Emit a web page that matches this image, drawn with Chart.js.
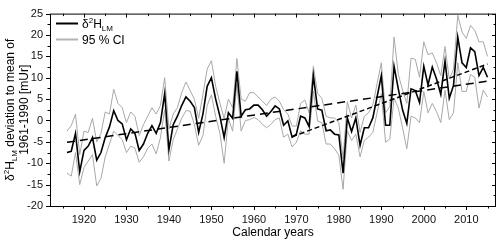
<!DOCTYPE html>
<html>
<head>
<meta charset="utf-8">
<script src="https://cdn.jsdelivr.net/npm/chart.js@4.4.1/dist/chart.umd.min.js"></script>
<style>
  html, body { margin: 0; padding: 0; background: #fff; }
</style>
</head>
<body>
<canvas id="isotope-chart" width="500" height="242"></canvas>
<script>
const years = [
    1916, 1917, 1918, 1919, 1920, 1921, 1922, 1923, 1924, 1925,
    1926, 1927, 1928, 1929, 1930, 1931, 1932, 1933, 1934, 1935,
    1936, 1937, 1938, 1939, 1940, 1941, 1942, 1943, 1944, 1945,
    1946, 1947, 1948, 1949, 1950, 1951, 1952, 1953, 1954, 1955,
    1956, 1957, 1958, 1959, 1960, 1961, 1962, 1963, 1964, 1965,
    1966, 1967, 1968, 1969, 1970, 1971, 1972, 1973, 1974, 1975,
    1976, 1977, 1978, 1979, 1980, 1981, 1982, 1983, 1984, 1985,
    1986, 1987, 1988, 1989, 1990, 1991, 1992, 1993, 1994, 1995,
    1996, 1997, 1998, 1999, 2000, 2001, 2002, 2003, 2004, 2005,
    2006, 2007, 2008, 2009, 2010, 2011, 2012, 2013, 2014, 2015
];

const d2hLM = [
    -7.5, -7.2, -3, -12, -7, -6, -4, -9.3, -7.5, -4,
    -1.5, 2.3, 0, -0.8, -4.5, -2, -3, -7, -5.5, -3,
    -1.2, -3, -0.5, 6.3, -6.8, -1, 1, 3.5, 5.5, 4.5,
    3, -2.8, 1.5, 8, 10, 5, 1, -4, 1.8, 0.5,
    11.5, 1, 2.5, 2.7, 3.6, 3.6, 2.5, 1.0, 2.1, 3.4,
    2.7, -1.1, -0.1, -3.9, -3.2, 1.0, 0.6, -1.4, 10.5, 2.7,
    2.4, -2.4, -2.2, -3.2, -3.4, -12.3, 0.6, -2.6, 0.6, -5.8,
    -1.7, -1.7, 0.6, 5.5, 10.5, -1.1, -1.1, 12.7, 7.4, 2.5,
    -0.7, 7.4, 7.0, 4.2, 12.7, 8.3, 12.5, 9.7, 6.1, 13.9,
    5.2, 8.2, 19.5, 13.5, 12.4, 17.0, 16.1, 10.5, 12.4, 10.1
];

const ciUpper = [
    -2.5, -1.2, 1.5, -8, -2.5, -2.8, 0.5, -5, -3, 2,
    1.5, 7.3, 4, 3, -0.5, 2, 1, -3.5, -1, 1,
    3, 1.5, 3.5, 10, -2, 1.5, 3, 6.5, 9, 7,
    5, 0.5, 6, 12, 14, 8, 4, 0.5, 5, 3,
    14.5, 5, 4.5, 6.5, 6.5, 5.5, 4.5, 3.5, 5.0, 5.5,
    4.5, 2.5, 1.5, -1.3, -1.3, 4.0, 4.8, 1.8, 12.7, 6.3,
    5.2, 1.0, 0.6, 0.6, -0.5, -8.9, 4.4, 0.6, 3.6, -2.8,
    1.0, 1.8, 3.6, 8.6, 13.5, 1.8, 3.3, 19.5, 10.8, 7.1,
    4.0, 14.6, 14.3, 10.1, 18.4, 15.4, 15.8, 13.5, 10.5, 17.3,
    9.7, 12, 24.6, 20.7, 19.2, 22.2, 21.1, 18.4, 18.4, 15
];

const ciLower = [
    -12.3, -13, -7.5, -15, -11, -9.5, -8, -15.3, -13.5, -8.5,
    -5.5, -2.5, -3.5, -4.5, -7.5, -6, -6.5, -9.8, -8.5, -6.5,
    -5.5, -7.8, -4, 2.5, -9.5, -4.5, -2, 0.5, 2.3, 2.2,
    -1, -5.8, -3.5, 3.5, 6, 1, -3, -10, 0.5, -2.5,
    8.5, -2.5, 0, 0.2, 0.7, 0.2, -0.9, -1.7, -0.9, 0.2,
    0.6, -3.9, -3.2, -6.2, -5.1, -2.4, -3.2, -3.2, 6.8, -0.1,
    -0.5, -5.5, -5.5, -6.6, -8.1, -16.1, -2.4, -4.7, -3.2, -8.5,
    -4.7, -3.9, -2.8, 1.8, 6.3, -5.1, -4.3, 5.2, 2.9, -1.7,
    -6.6, 1.0, 0.6, -0.5, 6.8, 1.8, 4.0, 2.1, -0.5, 7.1,
    0.2, 1.8, 13.5, 6.8, 6.8, 10.8, 10.1, 2.9, 7.1, 5.5
];

// linear trends (full record and since 1969)
const trendFullYears = [1916, 2015];
const trendFullValues = [-5.1, 9.2];
const trendRecentYears = [1969, 2015];
const trendRecentValues = [-3.8, 13.2];

const xTicks = [1920, 1930, 1940, 1950, 1960, 1970, 1980, 1990, 2000, 2010];
const xMinorTicks = [1915, 1925, 1935, 1945, 1955, 1965, 1975, 1985, 1995, 2005, 2015];
const yTicks = [-20, -15, -10, -5, 0, 5, 10, 15, 20, 25];
const yMinorTicks = [-17.5, -12.5, -7.5, -2.5, 2.5, 7.5, 12.5, 17.5, 22.5];

const FONT = '"Liberation Sans", Arial, sans-serif';

function toPoints(xs, ys) {
    return xs.map((x, i) => ({ x: x, y: ys[i] }));
}

// draws text runs with super/subscripts, starting at x (left), baseline y
function drawRuns(ctx, runs, x, y, size) {
    let cx = x;
    runs.forEach(r => {
        const s = r.sup || r.sub ? Math.round(size * 0.68) : size;
        ctx.font = s + 'px ' + FONT;
        const dy = r.sup ? -size * 0.38 : r.sub ? size * 0.25 : 0;
        ctx.fillText(r.t, cx, y + dy);
        cx += ctx.measureText(r.t).width;
    });
    return cx - x;
}

function runsWidth(ctx, runs, size) {
    let w = 0;
    runs.forEach(r => {
        const s = r.sup || r.sub ? Math.round(size * 0.68) : size;
        ctx.font = s + 'px ' + FONT;
        w += ctx.measureText(r.t).width;
    });
    return w;
}

const framePlugin = {
    id: 'frame',
    afterDatasetsDraw(chart) {
        const { ctx, chartArea: a, scales: { x, y } } = chart;
        ctx.save();
        ctx.strokeStyle = '#000';
        ctx.lineWidth = 1;
        ctx.strokeRect(a.left + 0.5, a.top + 0.5, a.right - a.left - 1, a.bottom - a.top);

        ctx.beginPath();
        const tick = (val, len, horiz) => {
            if (horiz) {
                const px = Math.round(x.getPixelForValue(val)) + 0.5;
                ctx.moveTo(px, a.bottom);
                ctx.lineTo(px, a.bottom + len);
                ctx.moveTo(px, a.top);
                ctx.lineTo(px, a.top + len);
            } else {
                const py = Math.round(y.getPixelForValue(val)) + 0.5;
                ctx.moveTo(a.left, py);
                ctx.lineTo(a.left - len, py);
                ctx.moveTo(a.right, py);
                ctx.lineTo(a.right - len, py);
            }
        };
        xTicks.forEach(v => tick(v, 4, true));
        xMinorTicks.forEach(v => tick(v, 2.5, true));
        yTicks.forEach(v => tick(v, 4, false));
        yMinorTicks.forEach(v => tick(v, 2.5, false));
        ctx.stroke();
        ctx.restore();
    },
    afterDraw(chart) {
        const { ctx, chartArea: a } = chart;
        ctx.save();
        ctx.fillStyle = '#000';
        ctx.textBaseline = 'alphabetic';

        // x axis title
        ctx.font = '12px ' + FONT;
        ctx.textAlign = 'center';
        ctx.fillText('Calendar years', (a.left + a.right) / 2, 236);

        // y axis title, two rotated lines
        ctx.textAlign = 'left';
        const line1 = [
            { t: 'δ' }, { t: '2', sup: true }, { t: 'H' }, { t: 'LM', sub: true },
            { t: ' deviation to mean of' }
        ];
        const line2 = [{ t: '1961-1990 [mUr]' }];
        const cy = (a.top + a.bottom) / 2;
        ctx.translate(0, cy);
        ctx.rotate(-Math.PI / 2);
        const w1 = runsWidth(ctx, line1, 12);
        drawRuns(ctx, line1, -w1 / 2, 14, 12);
        const w2 = runsWidth(ctx, line2, 12);
        drawRuns(ctx, line2, -w2 / 2, 28, 12);
        ctx.restore();

        // legend
        ctx.save();
        ctx.lineWidth = 2;
        ctx.strokeStyle = '#000';
        ctx.beginPath();
        ctx.moveTo(56, 23.5);
        ctx.lineTo(78, 23.5);
        ctx.stroke();
        ctx.strokeStyle = '#b4b4b4';
        ctx.beginPath();
        ctx.moveTo(56, 39.5);
        ctx.lineTo(78, 39.5);
        ctx.stroke();
        ctx.fillStyle = '#000';
        ctx.textAlign = 'left';
        drawRuns(ctx, [{ t: 'δ' }, { t: '2', sup: true }, { t: 'H' }, { t: 'LM', sub: true }], 82, 28, 12);
        drawRuns(ctx, [{ t: '95 % CI' }], 82, 44, 12);
        ctx.restore();
    }
};

function renderIsotopeChart() {
    const chartElm = document.getElementById('isotope-chart');
    if (!chartElm) {
        return;
    }
    const ctx = chartElm.getContext('2d');

    new Chart(ctx, {
        type: 'line',
        data: {
            datasets: [
                {
                    label: 'trend 1916-2015',
                    data: toPoints(trendFullYears, trendFullValues),
                    borderColor: '#000',
                    borderWidth: 1.5,
                    borderDash: [8, 5],
                    pointRadius: 0,
                    order: 0,
                },
                {
                    label: 'trend 1969-2015',
                    data: toPoints(trendRecentYears, trendRecentValues),
                    borderColor: '#000',
                    borderWidth: 1.5,
                    borderDash: [5, 3],
                    pointRadius: 0,
                    order: 1,
                },
                {
                    label: 'δ2H LM',
                    data: toPoints(years, d2hLM),
                    borderColor: '#000',
                    borderWidth: 1.6,
                    pointRadius: 0,
                    order: 2,
                },
                {
                    label: '95 % CI upper',
                    data: toPoints(years, ciUpper),
                    borderColor: '#a8a8a8',
                    borderWidth: 1,
                    pointRadius: 0,
                    order: 3,
                },
                {
                    label: '95 % CI lower',
                    data: toPoints(years, ciLower),
                    borderColor: '#a8a8a8',
                    borderWidth: 1,
                    pointRadius: 0,
                    order: 4,
                },
            ],
        },
        options: {
            responsive: false,
            animation: false,
            devicePixelRatio: 1,
            layout: {
                padding: { top: 8, right: 4, left: 0, bottom: 0 },
            },
            plugins: {
                legend: { display: false },
                tooltip: { enabled: false },
            },
            scales: {
                x: {
                    type: 'linear',
                    min: 1912,
                    max: 2017,
                    grid: { display: false, drawTicks: false },
                    border: { display: false },
                    afterBuildTicks: scale => {
                        scale.ticks = xTicks.map(v => ({ value: v }));
                    },
                    afterFit: scale => {
                        scale.height = 36;
                    },
                    ticks: {
                        padding: 7,
                        maxRotation: 0,
                        color: '#111',
                        font: { family: FONT, size: 11 },
                        callback: v => String(v),
                    },
                },
                y: {
                    min: -20,
                    max: 25,
                    grid: { display: false, drawTicks: false },
                    border: { display: false },
                    afterBuildTicks: scale => {
                        scale.ticks = yTicks.map(v => ({ value: v }));
                    },
                    afterFit: scale => {
                        scale.width = 50;
                    },
                    ticks: {
                        padding: 7,
                        color: '#111',
                        font: { family: FONT, size: 11 },
                    },
                },
            },
        },
        plugins: [framePlugin],
    });
}

renderIsotopeChart();
</script>
</body>
</html>
